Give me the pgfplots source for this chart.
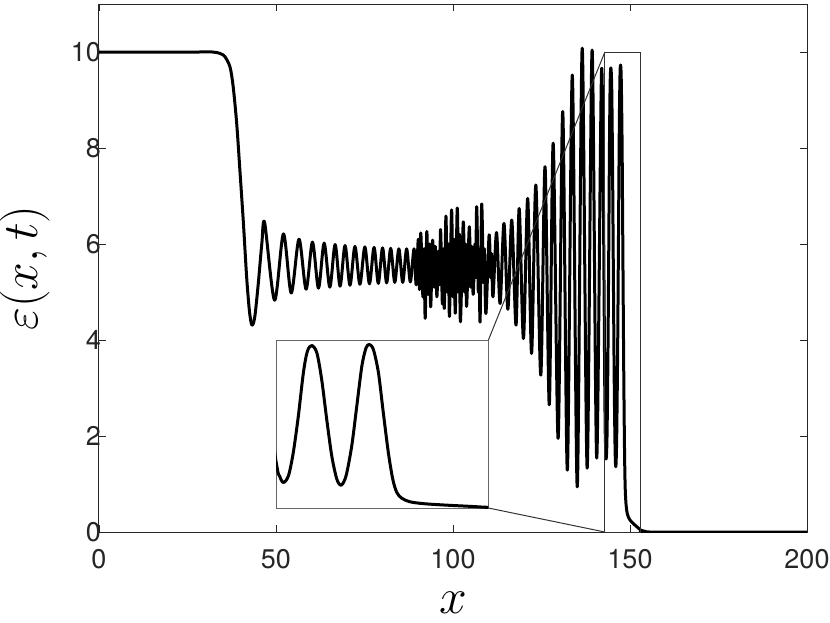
\documentclass[border=0pt]{standalone}
\usepackage{pgfplots}
\pgfplotsset{compat=1.18}
\usepackage{pgfplotstable}
\usepackage{fontspec}
\setmainfont{TeX Gyre Heros}
\pgfplotstableread{
x y
0 10
10 10
20 10
28 10
32 10
33.2 9.99
34.5 9.96
35.6 9.90
37.0 9.69
37.9 9.28
38.9 8.51
39.8 7.54
40.8 6.43
41.7 5.32
42.5 4.60
43.2 4.31
44.0 4.48
45.0 5.18
46.0 6.01
46.8 6.44
49.6 4.83
52.1 6.21
54.3 4.98
56.5 6.10
58.5 5.06
60.3 6.04
62.0 5.08
63.6 6.02
65.2 5.10
66.7 5.99
68.1 5.12
69.5 5.97
70.9 5.14
72.3 5.95
73.7 5.16
75.1 5.94
76.4 5.17
77.7 5.93
78.9 5.18
80.1 5.92
81.25 5.19
82.4 5.91
83.55 5.20
84.7 5.90
85.8 5.20
86.9 5.90
87.95 5.21
89.0 5.90
89.6 5.15
90.2 6.10
90.55 5.05
90.9 6.23
91.5 4.90
91.8 5.90
92.15 4.45
92.6 6.26
93.0 4.95
93.35 6.00
93.7 4.69
94.25 6.08
94.7 5.10
95.0 5.95
95.45 4.90
95.9 5.85
96.2 5.15
96.5 6.30
97.0 4.75
97.25 5.90
97.55 4.66
98.0 6.58
98.4 5.00
98.7 6.00
99.0 4.49
99.6 6.71
100.0 4.90
100.3 6.10
100.65 4.56
101.2 6.75
101.6 5.00
101.8 6.20
102.1 4.38
102.9 6.46
103.3 5.00
103.55 6.00
103.85 4.70
104.6 6.36
105.0 5.10
105.3 5.95
105.7 4.95
106.2 6.00
106.4 5.30
106.7 6.78
107.15 5.00
107.35 5.80
107.65 4.38
108.1 6.83
108.6 5.20
108.85 5.90
109.3 4.55
110.2 6.19
110.65 5.30
110.9 5.80
111.3 4.90
112.3 6.24
113.3 4.76
114.4 6.43
115.5 4.64
116.6 6.50
117.8 4.31
118.7 6.74
119.9 4.03
121.1 6.95
122.2 3.72
123.4 7.23
124.8 3.27
126.0 7.61
127.2 2.65
128.3 8.10
129.7 1.95
131.0 8.76
132.3 1.29
133.7 9.52
135.1 0.94
136.5 10.08
137.9 1.33
139.3 10.04
140.6 1.54
142.0 9.66
142.9 2.77
143.06 1.92
143.25 1.52
143.49 1.92
143.72 3.30
143.96 5.47
144.2 8.05
144.39 9.33
144.6 9.67
144.84 9.24
145.07 7.65
145.31 5.28
145.55 3.10
145.79 1.72
146.0 1.36
146.23 1.92
146.5 3.70
146.74 6.07
146.98 8.44
147.18 9.53
147.34 9.73
147.53 9.43
147.77 8.05
148.0 5.68
148.24 3.30
148.45 1.72
148.64 0.93
148.88 0.58
149.27 0.37
149.9 0.26
150.86 0.18
152.1 0.10
153.0 0.04
154.5 0.01
156 0
200 0
}\curvedata
\begin{document}
\begin{tikzpicture}
\begin{axis}[name=main,
  scale only axis, width=354pt, height=264pt,
  xmin=0, xmax=200, ymin=0, ymax=11,
  xtick={0,50,100,150,200}, ytick={0,2,4,6,8,10},
  tick align=inside, tick pos=both, major tick length=3.5pt,
  axis line style={black!85, line width=0.5pt},
  every tick/.style={black!85, line width=0.4pt},
  tick label style={font=\fontsize{13.5}{16}\selectfont, text=black!85},
  xticklabel style={yshift=-5.3pt, inner xsep=0pt},
  yticklabel style={xshift=4.5pt},
  /pgf/number format/assume math mode=true,
  xlabel={$x$}, ylabel={$\varepsilon(x,t)$},
  label style={font=\fontsize{28}{32}\selectfont, inner sep=0pt},
  xlabel style={at={(axis description cs:0.5,-0.1345)}, anchor=center},
  ylabel style={at={(axis description cs:-0.1045,0.5)}, anchor=center},
]
\addplot[black, line width=1.5pt, smooth, line join=round, line cap=round] table[x=x,y=y]{\curvedata};
\draw[black!80, line width=0.5pt] (axis cs:142.9,0) rectangle (axis cs:153,10);
\draw[black!80, line width=0.5pt] (axis cs:110,4) -- (axis cs:142.9,10);
\draw[black!80, line width=0.5pt] (axis cs:110,0.5) -- (axis cs:142.9,0);
\coordinate (insetpos) at (axis cs:50,0.5);
\end{axis}
\begin{axis}[at={(insetpos)}, anchor=south west,
  scale only axis, width=106.2pt, height=84pt,
  xmin=142.9, xmax=153, ymin=0, ymax=10,
  ticks=none,
  axis line style={black!60, line width=0.5pt},
  axis background/.style={fill=white},
]
\addplot[black, line width=1.5pt, smooth, line join=round, line cap=round] table[x=x,y=y]{\curvedata};
\end{axis}
\pgfresetboundingbox
\path[use as bounding box] ([shift={(-49.5pt,-45pt)}]main.south west) rectangle ([shift={(11.5pt,2pt)}]main.north east);
\end{tikzpicture}
\end{document}
